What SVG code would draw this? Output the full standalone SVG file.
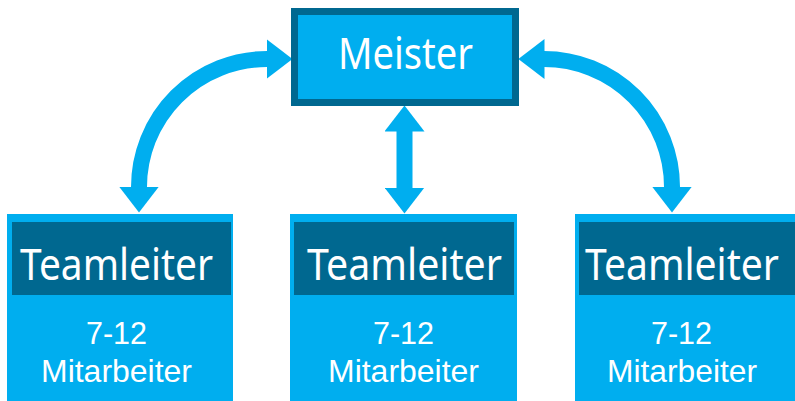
<svg xmlns="http://www.w3.org/2000/svg" width="795" height="401" viewBox="0 0 795 401">
<style>
.box{fill:#00AEEF}
.hdr{fill:#006890}
.t{fill:#FFFFFF;font-family:"Noto Sans","DejaVu Sans",sans-serif;text-anchor:middle}
.big{font-size:44px}
.small{font-size:32px;font-family:"Liberation Sans","Noto Sans",sans-serif}
.arc{fill:none;stroke:#00AEEF;stroke-width:16;marker-start:url(#head);marker-end:url(#head)}
</style>
<defs>
<marker id="head" markerUnits="userSpaceOnUse" viewBox="0 0 26 40" markerWidth="26" markerHeight="40" refX="0.5" refY="20" orient="auto-start-reverse">
<path d="M0,0 L26,20 L0,40 Z" fill="#00AEEF"/>
</marker>
</defs>
<rect width="795" height="401" fill="#FFFFFF"/>
<g id="connectors">
<path class="arc" d="M139,187 A128,128 0 0 1 267,59"/>
<path class="arc" d="M544,59 A128,128 0 0 1 672,187"/>
<path class="arc" d="M404.5,131 L404.5,188"/>
</g>
<g id="meister">
<rect x="294.5" y="11.5" width="221" height="91" fill="#00AEEF" stroke="#006890" stroke-width="7"/>
<text class="t big" x="405.5" y="69" textLength="135" lengthAdjust="spacingAndGlyphs">Meister</text>
</g>
<g id="team1">
<rect class="box" x="7" y="214" width="226" height="187"/>
<rect class="hdr" x="12" y="222" width="219" height="73"/>
<text class="t big" x="116.5" y="280" textLength="193" lengthAdjust="spacingAndGlyphs">Teamleiter</text>
<text class="t small" x="116.5" y="344" textLength="61" lengthAdjust="spacingAndGlyphs">7-12</text>
<text class="t small" x="116.5" y="382" textLength="151" lengthAdjust="spacingAndGlyphs">Mitarbeiter</text>
</g>
<g id="team2">
<rect class="box" x="290" y="214" width="227" height="187"/>
<rect class="hdr" x="294" y="222" width="220" height="73"/>
<text class="t big" x="404.5" y="280" textLength="195" lengthAdjust="spacingAndGlyphs">Teamleiter</text>
<text class="t small" x="403.5" y="344" textLength="61" lengthAdjust="spacingAndGlyphs">7-12</text>
<text class="t small" x="403.5" y="382" textLength="151" lengthAdjust="spacingAndGlyphs">Mitarbeiter</text>
</g>
<g id="team3">
<rect class="box" x="575" y="214" width="220" height="187"/>
<rect class="hdr" x="579" y="222" width="216" height="73"/>
<text class="t big" x="682" y="280" textLength="194" lengthAdjust="spacingAndGlyphs">Teamleiter</text>
<text class="t small" x="681.5" y="344" textLength="61" lengthAdjust="spacingAndGlyphs">7-12</text>
<text class="t small" x="682" y="382" textLength="150" lengthAdjust="spacingAndGlyphs">Mitarbeiter</text>
</g>
</svg>
